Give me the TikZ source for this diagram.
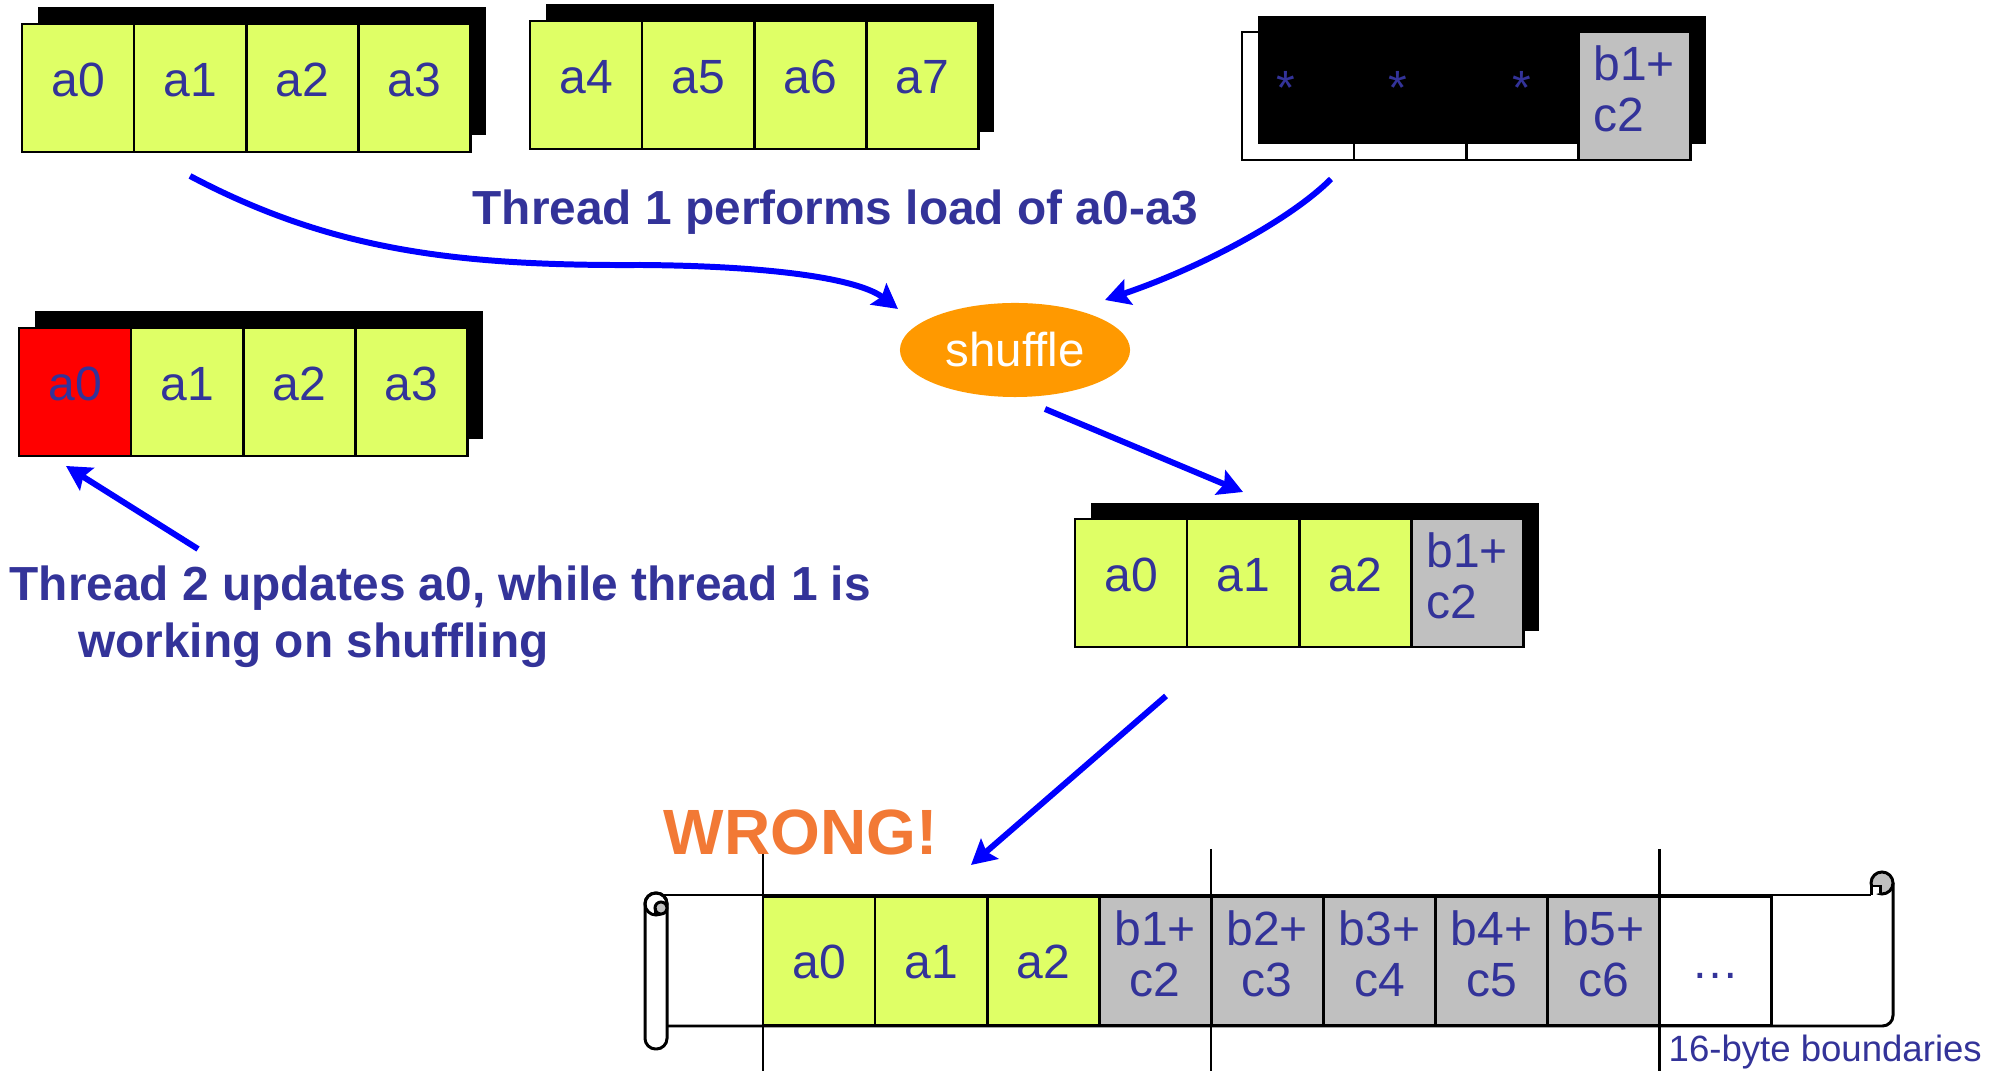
\documentclass[tikz,border=0pt]{standalone}
\usepackage{fontspec}
\setmainfont{Liberation Sans}
\usetikzlibrary{arrows.meta,positioning,shapes.geometric,backgrounds}
\definecolor{cellyel}{HTML}{DFFF66}
\definecolor{cellgry}{HTML}{C0C0C0}
\definecolor{txtblue}{HTML}{333399}
\definecolor{arrblue}{HTML}{0000FF}
\definecolor{shuforange}{HTML}{FF9900}
\definecolor{wrongorange}{HTML}{F27935}

\begin{document}
\begin{tikzpicture}[
    x=0.01cm, y=-0.01cm,
    cell/.style={rectangle, draw=black, line width=0.8pt, outer sep=0pt, inner sep=0pt,
      minimum width=1.12cm, minimum height=1.28cm, text=txtblue,
      font=\fontsize{13.66}{14.5}\selectfont},
    reg/.style={cell, text height=10.2pt, text depth=5.5pt},
    ylw/.style={reg, fill=cellyel},
    hot/.style={reg, fill=red},
    sum/.style={cell, fill=cellgry, align=left, execute at end node={\rule[-4pt]{0pt}{4pt}}},
    memylw/.style={cell, fill=cellyel, text height=9.8pt, text depth=0pt},
    memsum/.style={cell, fill=cellgry, align=center, execute at end node={\rule[-4pt]{0pt}{4pt}}},
    memblank/.style={cell, fill=white, text height=9.8pt, text depth=0pt},
    shadow/.style={fill=black},
    scrl/.style={draw=black, line width=0.85pt},
    bnd/.style={draw=black, line width=0.6pt},
    arr/.style={-{Stealth[length=7pt, width=7.5pt, inset=1.2pt]}, line width=1.7pt, draw=arrblue},
    lbl/.style={inner sep=0pt, text=txtblue, font=\fontsize{13.6}{16.2}\selectfont\bfseries}
]
    \useasboundingbox (0,0) rectangle (2003,1071);

    % load a0-a3
    \node[ylw, anchor=north west] (ld0) at (22,24) {a0};
    \node[ylw, right=0pt of ld0] (ld1) {a1};
    \node[ylw, right=0pt of ld1] (ld2) {a2};
    \node[ylw, right=0pt of ld2] (ld3) {a3};

    % next a4-a7
    \node[ylw, anchor=north west] (nx4) at (530,21) {a4};
    \node[ylw, right=0pt of nx4] (nx5) {a5};
    \node[ylw, right=0pt of nx5] (nx6) {a6};
    \node[ylw, right=0pt of nx6] (nx7) {a7};

    % mask register
    \node[reg, anchor=north west] (mk0) at (1242,32) {*\hspace*{7pt}};
    \node[reg, right=0pt of mk0] (mk1) {*\hspace*{7pt}};
    \node[reg, right=0pt of mk1] (mk2) {*};
    \node[sum, right=0pt of mk2] (mk3) {b1+\\c2};

    % a0 updated by thread 2
    \node[hot, anchor=north west] (rc0) at (19,328) {a0};
    \node[ylw, right=0pt of rc0] (rc1) {a1};
    \node[ylw, right=0pt of rc1] (rc2) {a2};
    \node[ylw, right=0pt of rc2] (rc3) {a3};

    % shuffle result
    \node[ylw, anchor=north west] (rs0) at (1075,519) {a0};
    \node[ylw, right=0pt of rs0] (rs1) {a1};
    \node[ylw, right=0pt of rs1] (rs2) {a2};
    \node[sum, right=0pt of rs2] (rs3) {b1+\\c2};

    \begin{scope}[on background layer]
        \fill[shadow] ([shift={(16,-17)}]ld0.north west) rectangle ([shift={(16,-17)}]ld3.south east);
        \fill[shadow] ([shift={(16,-17)}]nx4.north west) rectangle ([shift={(16,-17)}]nx7.south east);
        \fill[shadow] ([shift={(16,-16)}]mk0.north west) rectangle ([shift={(16,-16)}]mk3.south east);
        \fill[shadow] ([shift={(16,-17)}]rc0.north west) rectangle ([shift={(16,-17)}]rc3.south east);
        \fill[shadow] ([shift={(16,-16)}]rs0.north west) rectangle ([shift={(16,-16)}]rs3.south east);
    \end{scope}

    % memory scroll
    \fill[white] (657,895) rectangle (1893,1026);
    \draw[scrl] (656,895) -- (1871,895);
    \draw[scrl, rounded corners=3pt] (1893,883) -- (1893,1026) -- (667,1026);
    \draw[scrl, fill=cellgry] (1882,883) circle[radius=11];
    \draw[scrl, fill=white] (1871,895) -- (1871,886) -- (1880,886) -- (1880,893);
    \draw[scrl, fill=white, rounded corners=3pt] (645,893) rectangle (667,1049);
    \draw[scrl] (656,904) circle[radius=11];
    \draw[scrl, fill=cellgry] (661,908) circle[radius=6];
    \draw[scrl] (655,908) -- (655,915);

    \node[memylw, anchor=north west] (m0) at (763,897) {a0};
    \node[memylw, right=0pt of m0] (m1) {a1};
    \node[memylw, right=0pt of m1] (m2) {a2};
    \node[memsum, right=0pt of m2] (m3) {b1+\\c2};
    \node[memsum, right=0pt of m3] (m4) {b2+\\c3};
    \node[memsum, right=0pt of m4] (m5) {b3+\\c4};
    \node[memsum, right=0pt of m5] (m6) {b4+\\c5};
    \node[memsum, right=0pt of m6] (m7) {b5+\\c6};
    \node[memblank, right=0pt of m7] (m8) {…};

    \foreach \c in {m0,m4,m8}
        \draw[bnd] ([yshift=13.7pt]\c.north west) -- ([yshift=-13.1pt]\c.south west);

    % shuffle
    \node[ellipse, fill=shuforange, minimum width=2.3cm, minimum height=0.94cm,
          text=white, font=\fontsize{13.5}{16}\selectfont] (shuffle) at (1015,350) {shuffle};

    % labels
    \node[lbl, anchor=base west] (t1note) at (472,225) {Thread 1 performs load of a0-a3};
    \node[lbl, anchor=north west, align=left] (t2note) at (9,565)
        {Thread 2 updates a0, while thread 1 is\\\hspace*{19.5pt}working on shuffling};
    \node[inner sep=0pt, anchor=base west, text=wrongorange,
          font=\fontsize{18.2}{20}\selectfont\bfseries] (wrong) at (663,855) {WRONG!};
    \node[inner sep=0pt, anchor=base west, text=txtblue,
          font=\fontsize{10.4}{12}\selectfont] (bound) at (1668,1062) {16-byte boundaries};

    % arrows
    \coordinate (fromload) at (190,176);
    \coordinate (bend) at (640,265);
    \coordinate (toshufl) at (898,309);
    \coordinate (frommask) at (1331,179);
    \coordinate (toshufr) at (1105,300);
    \coordinate (fromshuf) at (1045,409);
    \coordinate (tores) at (1243,492);
    \coordinate (fromnote) at (198,549);
    \coordinate (tora0) at (66,466);
    \coordinate (fromres) at (1166,696);
    \coordinate (tomem) at (971,865);

    \draw[arr] (fromload) .. controls (330,250) and (455,266) .. (bend)
        .. controls (780,266) and (860,280) .. (toshufl);
    \draw[arr] (frommask) .. controls (1290,220) and (1200,268) .. (toshufr);
    \draw[arr] (fromshuf) -- (tores);
    \draw[arr] (fromnote) -- (tora0);
    \draw[arr] (fromres) -- (tomem);
\end{tikzpicture}
\end{document}
